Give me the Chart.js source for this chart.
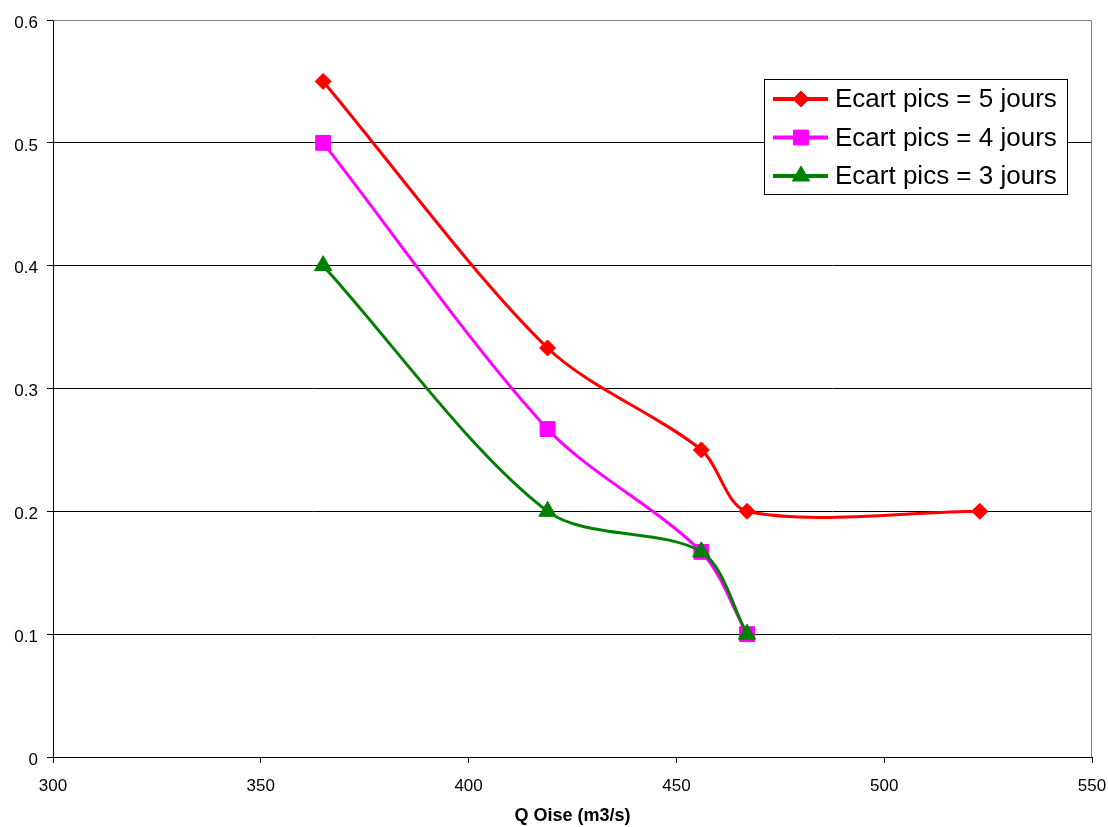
<!DOCTYPE html>
<html>
<head>
<meta charset="utf-8">
<script src="https://cdn.jsdelivr.net/npm/chart.js@4.4.0/dist/chart.umd.min.js"></script>
<style>
  html, body { margin: 0; padding: 0; background: #fff; }
  canvas { display: block; }
</style>
</head>
<body>
<canvas id="ecartChart" width="1108" height="827"></canvas>
<script>
// Ecart pics vs Q Oise
const SERIES_LABELS = ["Ecart pics = 5 jours", "Ecart pics = 4 jours", "Ecart pics = 3 jours"];

const qOise5 = [365, 419, 456, 467, 523];
const ecart5 = [0.55, 0.333, 0.25, 0.2, 0.2];

const qOise4 = [365, 419, 456, 467];
const ecart4 = [0.5, 0.267, 0.167, 0.1];

const qOise3 = [365, 419, 456, 467];
const ecart3 = [0.4, 0.2, 0.167, 0.1];

const X_TICKS = [300, 350, 400, 450, 500, 550];
const Y_TICKS = ["0", "0.1", "0.2", "0.3", "0.4", "0.5", "0.6"];

const FONT = "'Liberation Sans', Arial, sans-serif";

function toPoints(xs, ys) {
  return xs.map((x, i) => ({ x: x, y: ys[i] }));
}

// plot frame: grey top and right edges
const framePlugin = {
  id: "frame",
  beforeDatasetsDraw(chart) {
    const { ctx, chartArea: a } = chart;
    ctx.save();
    ctx.strokeStyle = "#808080";
    ctx.lineWidth = 1;
    ctx.beginPath();
    ctx.moveTo(a.left, a.top + 0.5);
    ctx.lineTo(a.right - 0.5, a.top + 0.5);
    ctx.lineTo(a.right - 0.5, a.bottom);
    ctx.stroke();
    ctx.restore();
  }
};

// legend box drawn inside the plot, like the original
const boxLegend = {
  id: "boxLegend",
  afterDraw(chart) {
    const ctx = chart.ctx;
    const bx = 764, by = 79, bw = 303, bh = 115;
    ctx.save();
    ctx.fillStyle = "#fff";
    ctx.fillRect(bx, by, bw, bh);
    ctx.strokeStyle = "#000";
    ctx.lineWidth = 1;
    ctx.strokeRect(bx + 0.5, by + 0.5, bw, bh);

    const rowsY = [99, 137.5, 176];
    chart.data.datasets.forEach((ds, i) => {
      const y = rowsY[i];
      ctx.strokeStyle = ds.borderColor;
      ctx.lineWidth = 4;
      ctx.beginPath();
      ctx.moveTo(773, y);
      ctx.lineTo(828, y);
      ctx.stroke();

      ctx.fillStyle = ds.backgroundColor;
      ctx.strokeStyle = ds.borderColor;
      ctx.lineWidth = 1;
      Chart.helpers.drawPoint(ctx, {
        pointStyle: ds.pointStyle,
        radius: ds.pointRadius,
        borderWidth: 1,
        rotation: 0
      }, 801, y);

      ctx.fillStyle = "#000";
      ctx.font = "26px " + FONT;
      ctx.textBaseline = "middle";
      ctx.textAlign = "left";
      ctx.fillText(ds.label, 835, y + 1);
    });
    ctx.restore();
  }
};

const ctx = document.getElementById("ecartChart").getContext("2d");

new Chart(ctx, {
  type: "line",
  data: {
    datasets: [
      {
        label: SERIES_LABELS[0],
        data: toPoints(qOise5, ecart5),
        borderColor: "#ff0000",
        backgroundColor: "#ff0000",
        pointStyle: "rectRot",
        pointRadius: 8,
        order: 2
      },
      {
        label: SERIES_LABELS[1],
        data: toPoints(qOise4, ecart4),
        borderColor: "#ff00ff",
        backgroundColor: "#ff00ff",
        pointStyle: "rect",
        pointRadius: 10.5,
        order: 1
      },
      {
        label: SERIES_LABELS[2],
        data: toPoints(qOise3, ecart3),
        borderColor: "#008000",
        backgroundColor: "#008000",
        pointStyle: "triangle",
        pointRadius: 10,
        order: 0
      }
    ]
  },
  options: {
    responsive: false,
    animation: false,
    events: [],
    elements: {
      line: { borderWidth: 3, tension: 0.3, fill: false },
      point: { borderWidth: 1, hoverRadius: 0 }
    },
    layout: { padding: { top: 20, right: 16, left: 0, bottom: 0 } },
    plugins: {
      legend: { display: false },
      tooltip: { enabled: false }
    },
    scales: {
      x: {
        type: "linear",
        min: 300,
        max: 550,
        afterFit(scale) {
          scale.height = 70;
          scale.paddingLeft = 0;
          scale.paddingRight = 0;
        },
        afterBuildTicks(scale) { scale.ticks = X_TICKS.map(v => ({ value: v })); },
        ticks: {
          color: "#000",
          font: { family: FONT, size: 17 },
          padding: 13,
          maxRotation: 0,
          callback: v => String(v)
        },
        grid: {
          drawOnChartArea: false,
          drawTicks: true,
          tickLength: 6,
          tickColor: "#000"
        },
        border: { color: "#000", width: 1 },
        title: {
          display: true,
          text: "Q Oise (m3/s)",
          color: "#000",
          font: { family: FONT, size: 18, weight: "bold" },
          padding: { top: 0, bottom: 0 }
        }
      },
      y: {
        min: 0,
        max: 0.6,
        afterFit(scale) {
          scale.width = 53;
          scale.paddingTop = 0;
          scale.paddingBottom = 0;
        },
        afterBuildTicks(scale) { scale.ticks = Y_TICKS.map(v => ({ value: Number(v) })); },
        ticks: {
          color: "#000",
          font: { family: FONT, size: 17 },
          padding: 9,
          labelOffset: 3,
          callback: (v, i) => Y_TICKS[i]
        },
        grid: {
          color: c => (c.tick && c.tick.value >= 0.6 ? "rgba(0,0,0,0)" : "#000"),
          lineWidth: 1,
          tickLength: 6,
          tickColor: "#000"
        },
        border: { color: "#000", width: 1 }
      }
    }
  },
  plugins: [framePlugin, boxLegend]
});
</script>
</body>
</html>
